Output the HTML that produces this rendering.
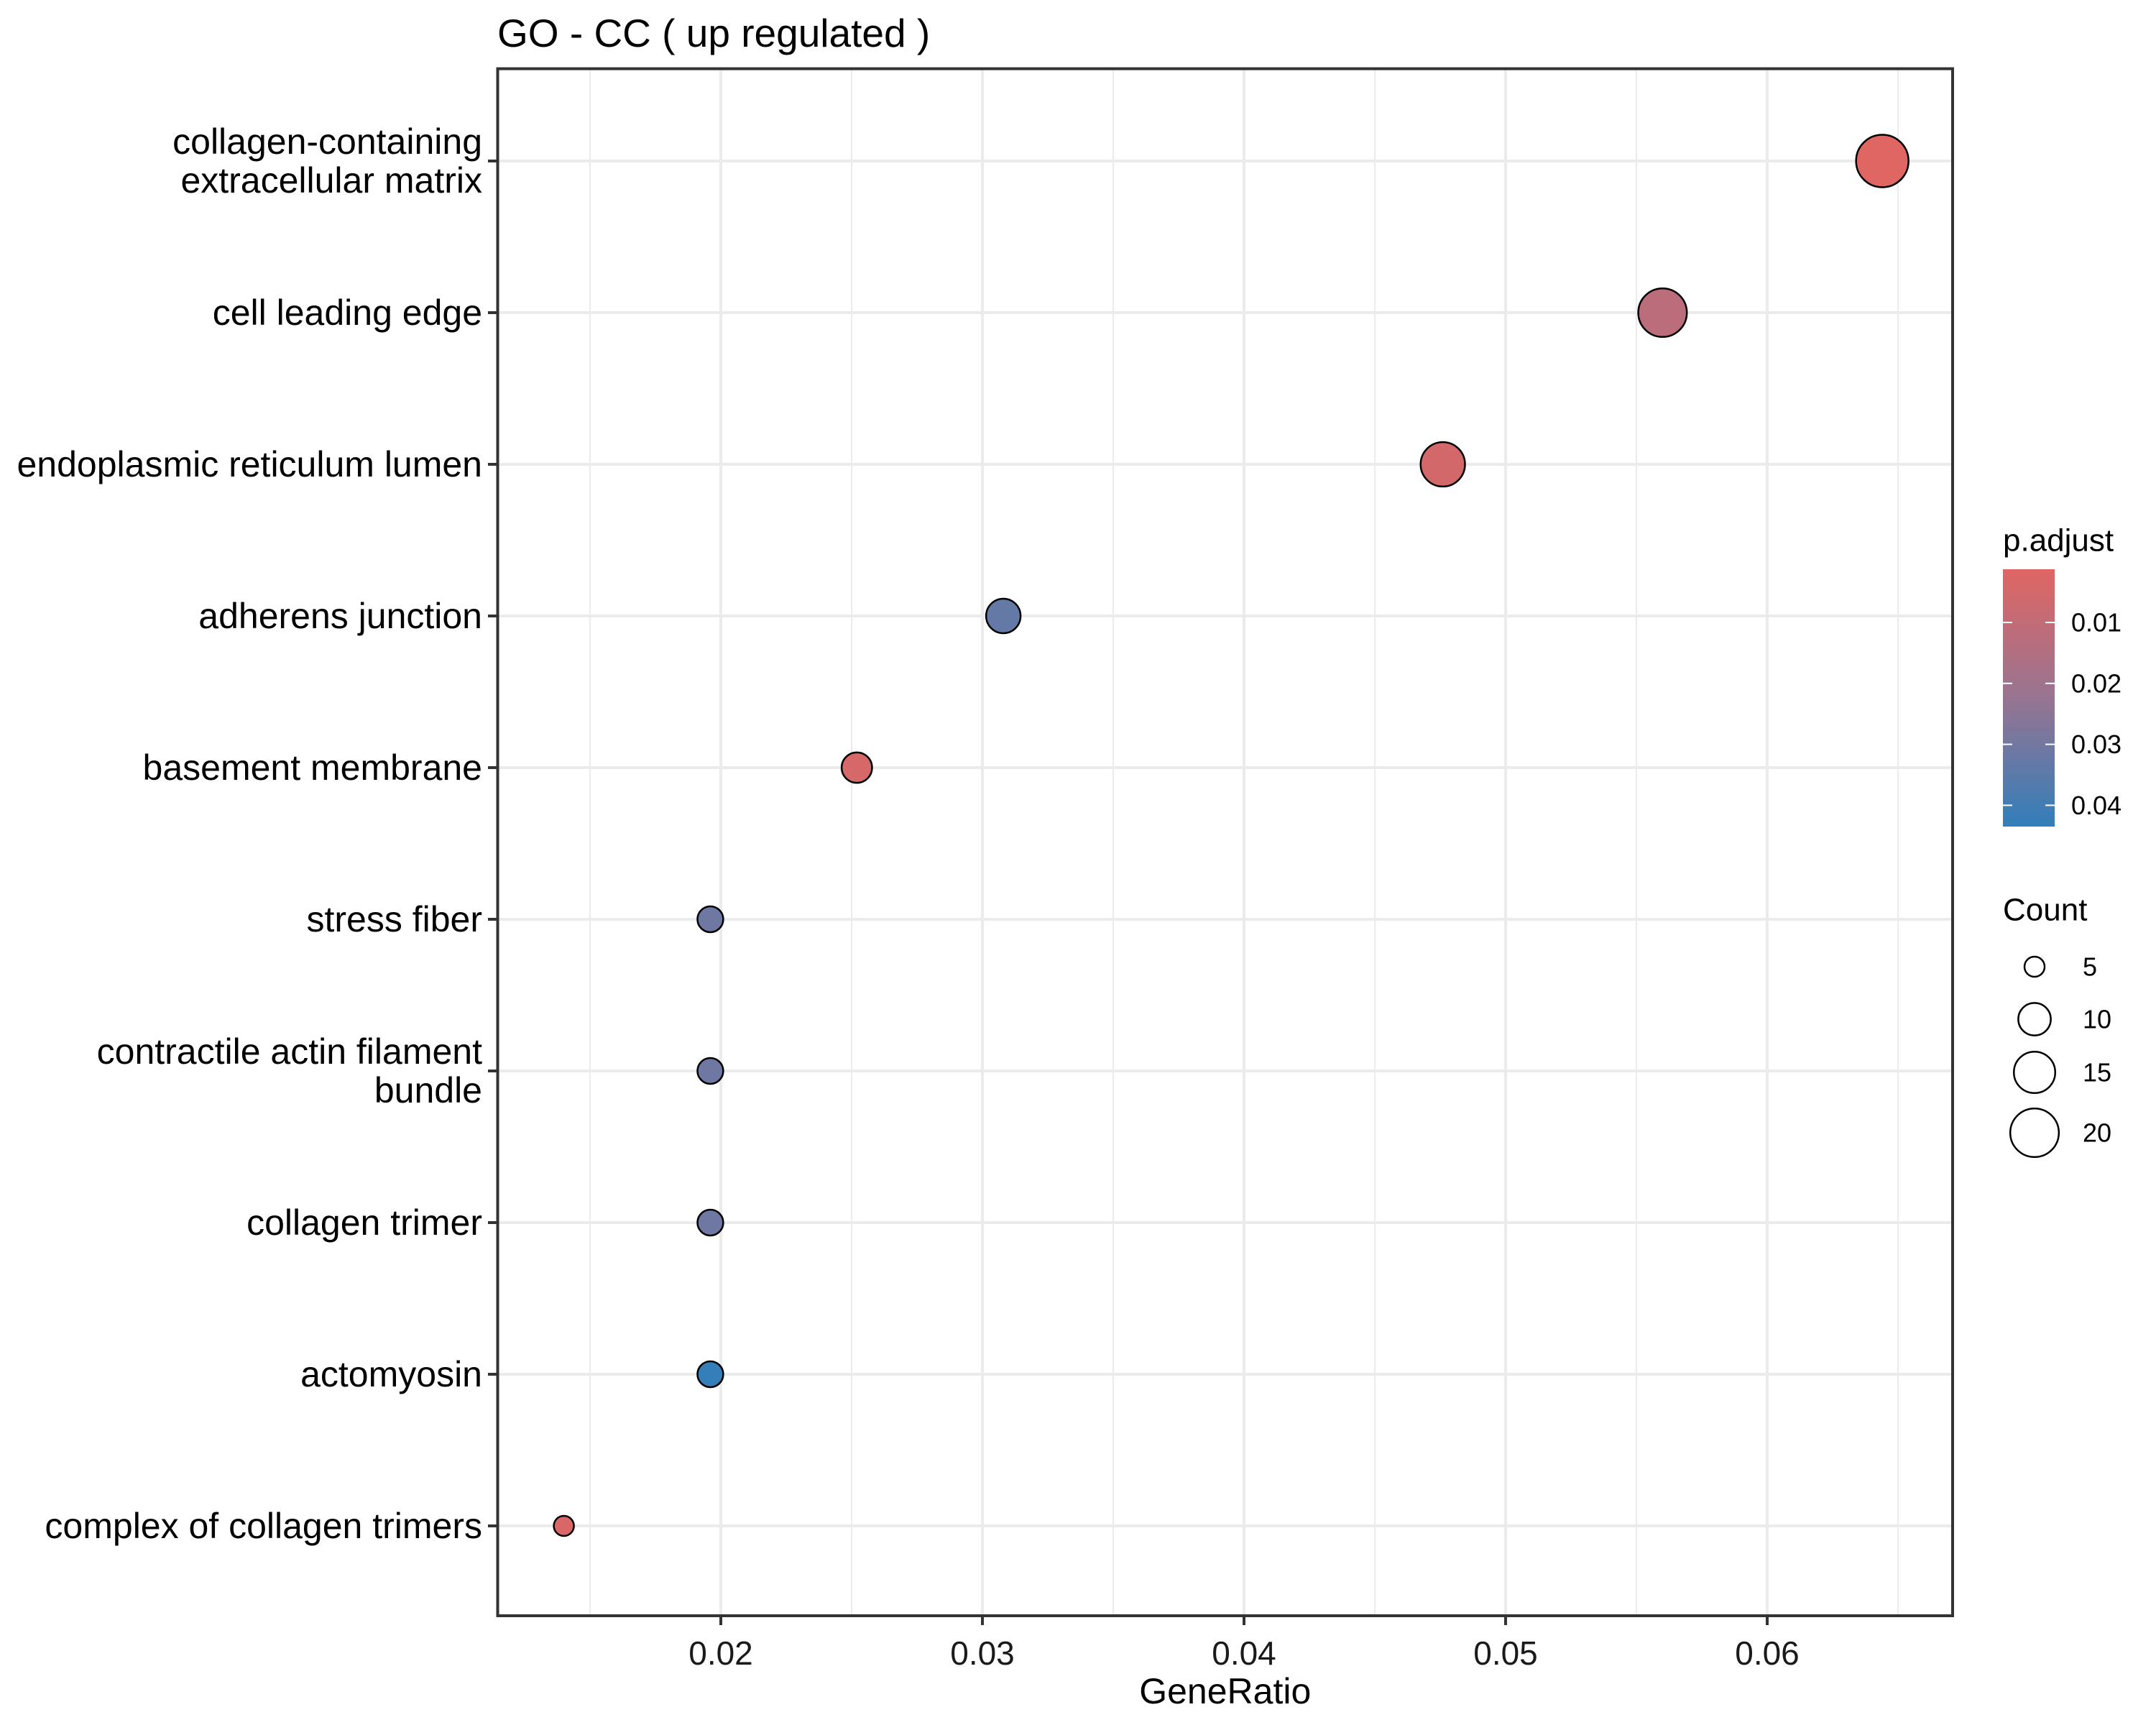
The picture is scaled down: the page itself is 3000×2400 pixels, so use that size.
<!DOCTYPE html>
<html><head><meta charset="utf-8"><style>
html,body{margin:0;padding:0;background:#fff;}
svg{display:block;font-family:"Liberation Sans",Arial,sans-serif;}
</style></head><body>
<svg id="chart" width="3000" height="2400" viewBox="0 0 3000 2400">
<text x="692" y="46" font-size="55" dominant-baseline="central" fill="#000">GO - CC ( up regulated )</text>
<g id="grid"></g><g id="points"></g><g id="axes"></g><g id="legend"></g>
</svg>
<script>
const categories = [["collagen-containing","extracellular matrix"],["cell leading edge"],["endoplasmic reticulum lumen"],["adherens junction"],["basement membrane"],["stress fiber"],["contractile actin filament","bundle"],["collagen trimer"],["actomyosin"],["complex of collagen trimers"]];
const geneRatio = [0.0644,0.0560,0.0476,0.0308,0.0252,0.0196,0.0196,0.0196,0.0196,0.0140];
const counts = [23,20,17,11,9,7,7,7,7,5];
const pAdjust = [0.001,0.012,0.005,0.033,0.004,0.031,0.031,0.031,0.043,0.003];
const xTicks = [0.02,0.03,0.04,0.05,0.06];
const xMinor = [0.015,0.025,0.035,0.045,0.055,0.065];
const colorTicks = [0.01,0.02,0.03,0.04];
const sizeLegend = [5,10,15,20];

const NS="http://www.w3.org/2000/svg";
const PL=692.5, PR=2717, PT=95.6, PB=2248;
const X = v => 1003 + (v-0.02)*36400;
const Y = i => 224 + i*211;
const cMin=Math.min(...counts), cMax=Math.max(...counts);
const R = c => Math.sqrt(196 + (c-cMin)/(cMax-cMin)*(1332-196));
const CB_T=792, CB_B=1150;
const pY = p => 866 + (p-0.01)*8480;
const pTop=0.01-(866-CB_T)/8480, pBot=0.04+(CB_B-(866+3*84.8))/8480;
const lo=[224,102,99], mid=[152,116,146], hi=[50,126,186];
function col(p){let t=(p-pTop)/(pBot-pTop);t=Math.max(0,Math.min(1,t));
 let a,b,u; if(t<0.5){a=lo;b=mid;u=t*2;}else{a=mid;b=hi;u=(t-0.5)*2;}
 const c=a.map((v,k)=>Math.round(v+(b[k]-v)*u));return `rgb(${c[0]},${c[1]},${c[2]})`;}
function mk(tag,attrs,parent,txt){const e=document.createElementNS(NS,tag);for(const k in attrs)e.setAttribute(k,attrs[k]);if(txt!==undefined)e.textContent=txt;parent.appendChild(e);return e;}

const grid=document.getElementById('grid'), pts=document.getElementById('points'), ax=document.getElementById('axes'), lg=document.getElementById('legend');
mk('rect',{x:PL,y:PT,width:PR-PL,height:PB-PT,fill:'#fff'},grid);
xMinor.forEach(v=>{const l=mk('line',{x1:X(v),x2:X(v),y1:PT,y2:PB,stroke:'#ebebeb','stroke-width':2},grid);

});
xTicks.forEach(v=>{const l=mk('line',{x1:X(v),x2:X(v),y1:PT,y2:PB,stroke:'#ebebeb','stroke-width':4},grid);

});
categories.forEach((c,i)=>{const l=mk('line',{x1:PL,x2:PR,y1:Y(i),y2:Y(i),stroke:'#ebebeb','stroke-width':4},grid);

});

geneRatio.forEach((g,i)=>{const c=mk('circle',{cx:X(g),cy:Y(i),r:R(counts[i]),fill:col(pAdjust[i]),stroke:'#000','stroke-width':2.5},pts);

});

const border=mk('rect',{x:PL,y:PT,width:PR-PL,height:PB-PT,fill:'none',stroke:'#333','stroke-width':4},ax);


categories.forEach((c,i)=>{
 mk('line',{x1:679,x2:PL,y1:Y(i),y2:Y(i),stroke:'#333','stroke-width':4},ax);
 const t=mk('text',{x:671,y:Y(i),'font-size':50,'text-anchor':'end','dominant-baseline':'central',fill:'#000'},ax);
 
 
 c.forEach((s,k)=>{mk('tspan',{x:671,dy:k===0?(c.length>1?-27:0):54},t,s);});
});
xTicks.forEach(v=>{
 mk('line',{x1:X(v),x2:X(v),y1:PB,y2:PB+13,stroke:'#333','stroke-width':4},ax);
 const t=mk('text',{x:X(v),y:2300,'font-size':46,'text-anchor':'middle','dominant-baseline':'central',fill:'#1a1a1a'},ax,v.toFixed(2));
 
 
});
const xt=mk('text',{x:(PL+PR)/2,y:2353,'font-size':50,'text-anchor':'middle','dominant-baseline':'central',fill:'#000'},ax,'GeneRatio');



const defs=mk('defs',{},lg);
const grad=mk('linearGradient',{id:'cb',x1:0,y1:0,x2:0,y2:1},defs);
for(let k=0;k<=20;k++){const p=pTop+(pBot-pTop)*k/20;mk('stop',{offset:k/20,'stop-color':col(p)},grad);}
const lt=mk('text',{x:2787,y:752,'font-size':44,'dominant-baseline':'central',fill:'#000'},lg,'p.adjust');


const cb=mk('rect',{x:2787,y:CB_T,width:72,height:CB_B-CB_T,fill:'url(#cb)'},lg);


colorTicks.forEach(p=>{
 mk('line',{x1:2787,x2:2800,y1:pY(p),y2:pY(p),stroke:'#fff','stroke-width':2},lg);
 mk('line',{x1:2846,x2:2859,y1:pY(p),y2:pY(p),stroke:'#fff','stroke-width':2},lg);
 const t=mk('text',{x:2882,y:pY(p),'font-size':36,'dominant-baseline':'central',fill:'#000'},lg,p.toFixed(2));
 
 
});
const st=mk('text',{x:2787,y:1266,'font-size':44,'dominant-baseline':'central',fill:'#000'},lg,'Count');


const sY=[1345,1418,1492,1576];
sizeLegend.forEach((c,k)=>{
 const e=mk('circle',{cx:2831,cy:sY[k],r:R(c),fill:'none',stroke:'#000','stroke-width':2.5},lg);
 
 
 const t=mk('text',{x:2898,y:sY[k],'font-size':36,'dominant-baseline':'central',fill:'#000'},lg,String(c));
 
 
});
</script>
</body></html>
